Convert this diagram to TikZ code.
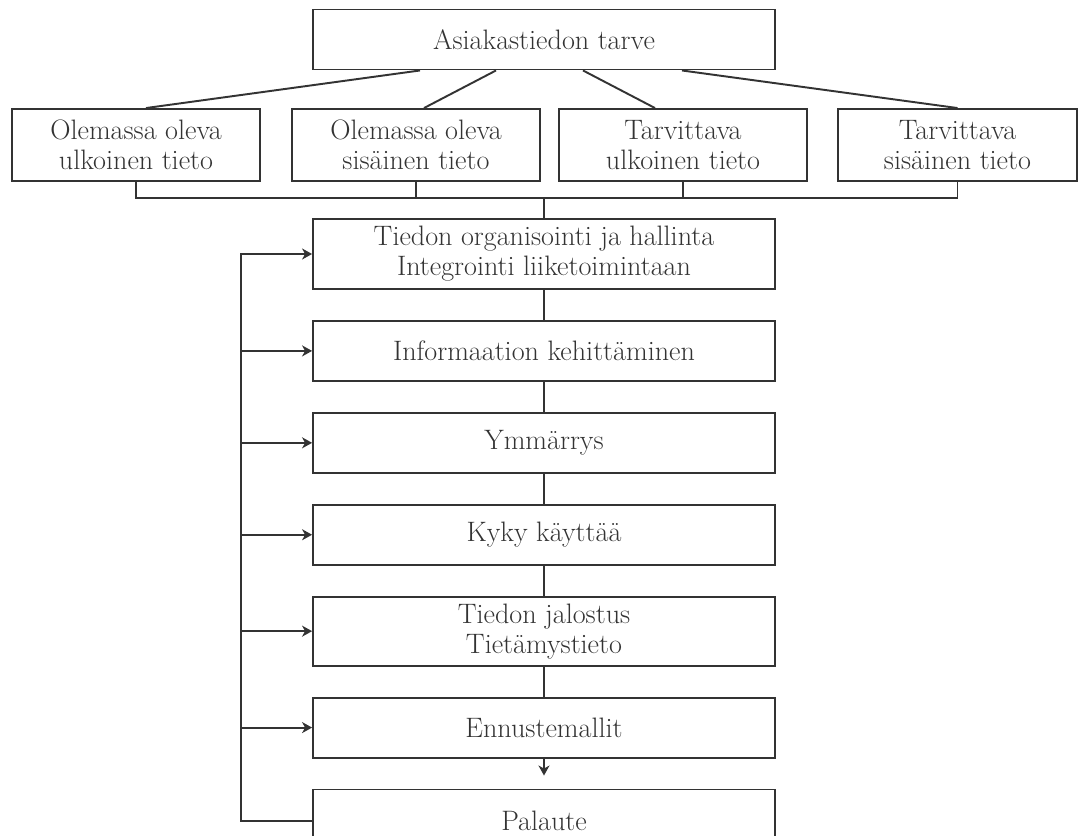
\documentclass[tikz,border=0pt]{standalone}
\usetikzlibrary{arrows.meta, positioning}
\definecolor{cink}{HTML}{333333}
\tikzset{
  every picture/.style={line width=1.1pt, color=cink, font=\fontsize{16}{17}\selectfont},
  box/.style={draw=cink, align=center, inner sep=3pt, minimum height=1.2cm},
  kind/.style={box, minimum width=4.96cm, minimum height=1.44cm},
  step box/.style={box, minimum width=9.24cm},
  arrow/.style={-{Stealth[length=2mm, width=2.2mm, inset=0.6mm]}, draw=cink},
}

\begin{document}
\begin{tikzpicture}[x=0.02cm, y=-0.02cm, node distance=0.6cm]
  \useasboundingbox (0,0) rectangle (1080,836);
  \clip (0,0) rectangle (1080,836);
  \node[step box] (need) at (544,39.5) {Asiakastiedon tarve};
  \node[kind] (ext1) at (136,145) {Olemassa oleva\\ulkoinen tieto};
  \node[kind] (int1) at (416,145) {Olemassa oleva\\sisäinen tieto};
  \node[kind] (ext2) at (683,145) {Tarvittava\\ulkoinen tieto};
  \node[kind, minimum width=4.78cm] (int2) at (957.5,145) {Tarvittava\\sisäinen tieto};
  \draw ([xshift=-2.48cm]need.south) -- ([xshift=0.2cm]ext1.north);
  \draw ([xshift=-0.96cm]need.south) -- ([xshift=0.16cm]int1.north);
  \draw ([xshift=0.78cm]need.south) -- ([xshift=-0.56cm]ext2.north);
  \draw ([xshift=2.76cm]need.south) -- (int2.north);
  \coordinate (bus) at (544,198);
  \draw (ext1.south) |- (bus) -| (int2.south);
  \draw (int1.south) -- (int1.south |- bus);
  \draw (ext2.south) -- (ext2.south |- bus);
  \node[step box, minimum height=1.4cm] (org) at (544,254) {Tiedon organisointi ja hallinta\\Integrointi liiketoimintaan};
  \node[step box, below=of org] (inf) {Informaation kehittäminen};
  \node[step box, below=of inf] (ymm) {Ymmärrys};
  \node[step box, below=of ymm] (kyky) {Kyky käyttää};
  \node[step box, minimum height=1.38cm, below=of kyky] (jal) {Tiedon jalostus\\Tietämystieto};
  \node[step box, below=of jal] (enn) {Ennustemallit};
  \node[step box, minimum height=1.26cm, below=of enn] (pal) {Palaute};
  \draw (bus) -- (org);
  \foreach \a/\b in {org/inf, inf/ymm, ymm/kyky, kyky/jal, jal/enn}
    \draw (\a) -- (\b);
  \draw[arrow, shorten >=0.26cm] (enn) -- (pal);
  \coordinate (fb) at ([xshift=-1.42cm]org.west);
  \draw[arrow] (pal.west) -| (fb) -- (org.west);
  \foreach \n in {inf, ymm, kyky, jal, enn}
    \draw[arrow] (\n.west -| fb) -- (\n.west);
\end{tikzpicture}
\end{document}
